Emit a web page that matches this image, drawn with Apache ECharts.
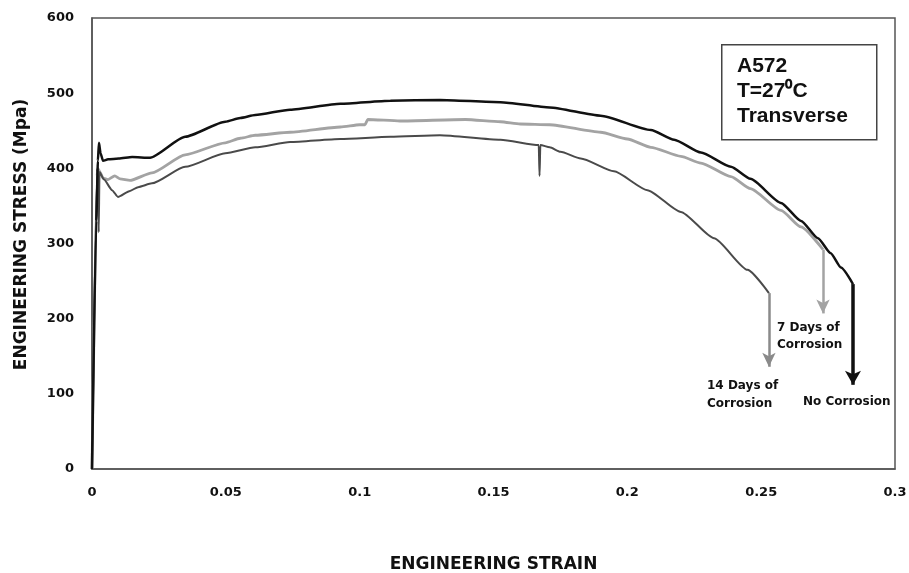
<!DOCTYPE html>
<html>
<head>
<meta charset="utf-8">
<script src="https://cdn.jsdelivr.net/npm/echarts@6/dist/echarts.min.js"></script>
<style>
html,body{margin:0;padding:0;background:#fff;}
#chart{width:909px;height:573px;}
</style>
</head>
<body>
<div id="chart"></div>
<script>
// ---- Data (strain, stress MPa) ----
const noCorrosion = [
  [0,0],[0.0016,330],[0.0022,410],[0.0026,434],[0.0032,420],[0.0041,410],[0.006,412],[0.01,413],
  [0.015,415],[0.0217,414],[0.0348,442],[0.0498,462],[0.0554,467],[0.061,471],[0.074,478],
  [0.0928,486],[0.1115,490],[0.13,491],[0.1526,488],[0.171,481],[0.19,470],[0.2088,451],
  [0.2175,438],[0.2275,421],[0.2387,402],[0.246,386],[0.2574,354],[0.2649,330],[0.2712,307],
  [0.276,287],[0.2798,268],[0.2843,246]
];
const days7 = [
  [0,0],[0.0019,390],[0.0022,400],[0.003,395],[0.0041,387],[0.006,385],[0.0085,390],[0.0105,386],
  [0.0142,384],[0.0224,394],[0.0348,418],[0.0498,434],[0.0554,440],[0.061,444],[0.074,448],
  [0.0928,455],[0.1,458],[0.102,458],[0.103,465],[0.115,463],[0.1395,465],[0.1526,462],
  [0.16,459],[0.171,458],[0.19,448],[0.2,439],[0.2088,428],[0.22,416],[0.2275,407],
  [0.2387,389],[0.246,373],[0.2574,344],[0.2649,322],[0.2731,292]
];
const days14 = [
  [0,0],[0.0019,395],[0.0022,400],[0.0025,315],[0.0028,395],[0.0045,385],[0.0075,371],[0.0097,362],
  [0.0142,370],[0.0172,375],[0.0224,380],[0.0348,402],[0.0498,420],[0.061,428],[0.074,435],
  [0.0928,439],[0.1115,442],[0.13,444],[0.1526,438],[0.1669,431],[0.1672,390],[0.1675,431],
  [0.171,428],[0.175,422],[0.1826,413],[0.195,396],[0.2075,371],[0.22,342],[0.2324,307],
  [0.2449,265],[0.2529,234]
];
// fracture arrows: [strain, from stress, to stress]
const arrowNo = [0.2843, 246, 112];
const arrow7 = [0.2731, 292, 207];
const arrow14 = [0.2529, 234, 136];

const xTicks = [0, 0.05, 0.1, 0.15, 0.2, 0.25, 0.3];
const yTicks = [0, 100, 200, 300, 400, 500, 600];

const chart = echarts.init(document.getElementById('chart'), null, {renderer:'canvas'});
const lblFont = {fontFamily:'DejaVu Sans', fontWeight:'bold', fontSize:13, color:'#111'};

function arrowLine(a, color, width, size){
  return {
    silent:true, animation:false,
    symbol:['none','arrow'], symbolSize:size,
    label:{show:false},
    lineStyle:{color:color, width:width, type:'solid'},
    data:[[{coord:[a[0],a[1]]},{coord:[a[0],a[2]]}]]
  };
}

chart.setOption({
  animation:false,
  backgroundColor:'#fff',
  grid:{left:92, right:14, top:18, bottom:104, show:true, borderColor:'#555', borderWidth:1.5,
        containLabel:false, outerBoundsMode:'none'},
  xAxis:{
    type:'value', min:0, max:0.3, interval:0.05,
    name:'ENGINEERING STRAIN', nameLocation:'middle', nameGap:87,
    nameTextStyle:{fontFamily:'DejaVu Sans', fontWeight:'bold', fontSize:17, color:'#111'},
    axisLine:{show:true, lineStyle:{color:'#555', width:1.5}},
    axisTick:{show:false}, splitLine:{show:false},
    axisLabel:Object.assign({margin:17, formatter:v=>{const t=xTicks.find(k=>Math.abs(k-v)<1e-9);return t===undefined?'':String(t);}}, lblFont)
  },
  yAxis:{
    type:'value', min:0, max:600, interval:100,
    name:'ENGINEERING STRESS (Mpa)', nameLocation:'middle', nameGap:62,
    nameTextStyle:{fontFamily:'DejaVu Sans', fontWeight:'bold', fontSize:17, color:'#111', padding:[0,0,0,18]},
    axisLine:{show:true, lineStyle:{color:'#555', width:1.5}},
    axisTick:{show:false}, splitLine:{show:false},
    axisLabel:Object.assign({margin:18, formatter:v=>yTicks.includes(v)?String(v):''}, lblFont)
  },
  series:[
    {type:'line', name:'14 Days of Corrosion', data:days14, showSymbol:false, z:3,
     smooth:0.2, smoothMonotone:'x',
     lineStyle:{color:'#4a4a4a', width:2},
     markLine:arrowLine(arrow14,'#8a8a8a',2.5,[10,14])},
    {type:'line', name:'7 Days of Corrosion', data:days7, showSymbol:false, z:2,
     smooth:0.2, smoothMonotone:'x',
     lineStyle:{color:'#a3a3a3', width:2.8},
     markLine:arrowLine(arrow7,'#a3a3a3',2.5,[10,14])},
    {type:'line', name:'No Corrosion', data:noCorrosion, showSymbol:false, z:4,
     smooth:0.2, smoothMonotone:'x',
     lineStyle:{color:'#111', width:2.5},
     markLine:arrowLine(arrowNo,'#111',3.5,[12,14])}
  ],
  graphic:[
    {type:'rect', left:721, top:44, shape:{width:155, height:95},
     style:{fill:'#fff', stroke:'#444', lineWidth:1.5}, z:10},
    {type:'text', left:737, top:54, z:11,
     style:{text:'A572\nT=27⁰C\nTransverse', fill:'#111', font:'bold 21px "Liberation Sans"', lineHeight:25}},
    {type:'text', left:777, top:319, z:11,
     style:{text:'7 Days of\nCorrosion', fill:'#111', font:'bold 12px "DejaVu Sans"', lineHeight:17}},
    {type:'text', left:707, top:377, z:11,
     style:{text:'14 Days of\nCorrosion', fill:'#111', font:'bold 12px "DejaVu Sans"', lineHeight:18}},
    {type:'text', left:803, top:396, z:11,
     style:{text:'No Corrosion', fill:'#111', font:'bold 12px "DejaVu Sans"'}}
  ]
});
</script>
</body>
</html>
